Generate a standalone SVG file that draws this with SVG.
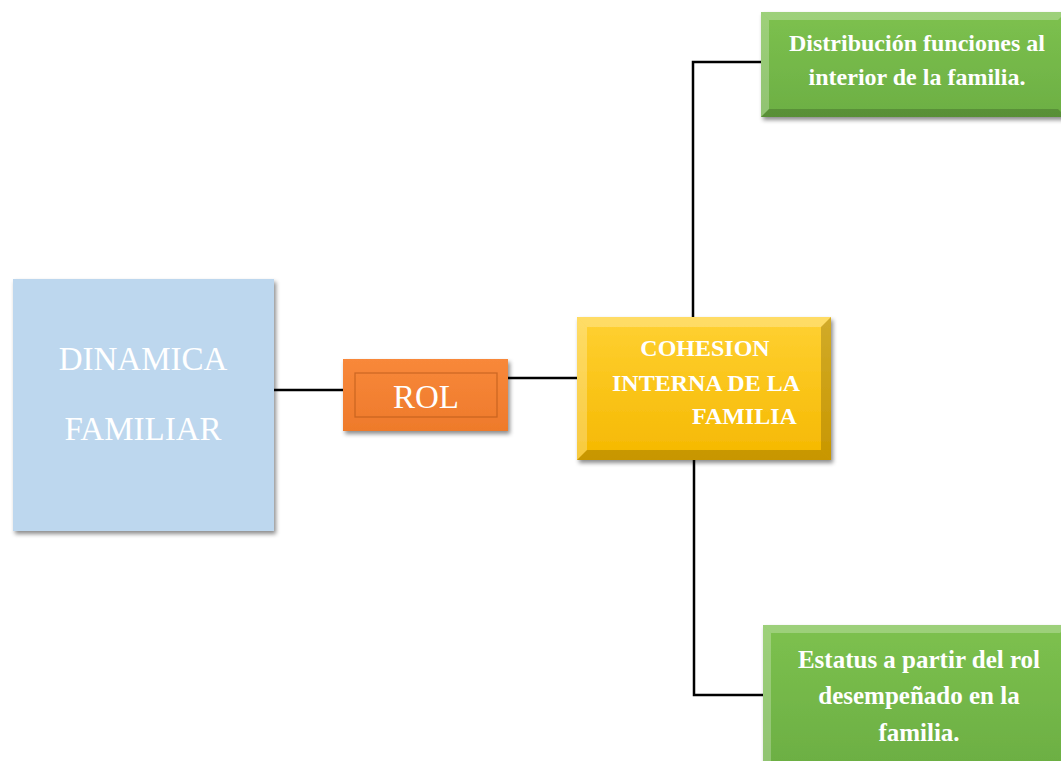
<svg xmlns="http://www.w3.org/2000/svg" width="1061" height="761" viewBox="0 0 1061 761">
<defs>
<filter id="sh" x="-10%" y="-10%" width="125%" height="125%">
<feDropShadow dx="2" dy="3" stdDeviation="2" flood-color="#000" flood-opacity="0.45"/>
</filter>
<linearGradient id="gold" x1="0" y1="0" x2="0" y2="1">
<stop offset="0" stop-color="#FFD133"/>
<stop offset="1" stop-color="#F5B800"/>
</linearGradient>
<linearGradient id="green" x1="0" y1="0" x2="0" y2="1">
<stop offset="0" stop-color="#7DC14F"/>
<stop offset="1" stop-color="#6CAF43"/>
</linearGradient>
<linearGradient id="orange" x1="0" y1="0" x2="0" y2="1">
<stop offset="0" stop-color="#F8883A"/>
<stop offset="1" stop-color="#EE7A2B"/>
</linearGradient>
</defs>
<style>
.ln{stroke:#000;stroke-width:2.5;fill:none}
.w{fill:#fff;font-family:"Liberation Serif","Times New Roman",serif}
.b{font-weight:bold}
.hi{fill:#fff;opacity:0.25}
.lo{fill:#000;opacity:0.18}
</style>
<g id="connectors">
<path class="ln" d="M274 390H344"/>
<path class="ln" d="M508 378H578"/>
<path class="ln" d="M693 317V62H762"/>
<path class="ln" d="M694 460V695H765"/>
</g>
<g id="dinamica">
<rect x="13" y="279" width="261" height="252" fill="#BDD7EE" filter="url(#sh)"/>
<text class="w" x="143" y="370" font-size="33" text-anchor="middle">DINAMICA</text>
<text class="w" x="143" y="440" font-size="33" text-anchor="middle">FAMILIAR</text>
</g>
<g id="rol">
<rect x="343" y="359" width="165" height="72" fill="url(#orange)" filter="url(#sh)"/>
<rect x="355" y="373" width="142" height="44" fill="none" stroke="#B85A1A" stroke-width="1.2" opacity="0.7"/>
<text class="w" x="426" y="408" font-size="33" text-anchor="middle">ROL</text>
</g>
<g id="cohesion">
<rect x="577" y="317" width="254" height="143" fill="url(#gold)" filter="url(#sh)"/>
<polygon class="hi" points="577,317 831,317 821,327 587,327"/>
<polygon class="hi" points="577,317 587,327 587,450 577,460"/>
<polygon class="lo" points="831,317 831,460 821,450 821,327"/>
<polygon class="lo" points="577,460 831,460 821,450 587,450"/>
<text class="w b" x="705" y="356" font-size="24" text-anchor="middle">COHESION</text>
<text class="w b" x="612" y="391" font-size="24">INTERNA DE LA</text>
<text class="w b" x="692" y="424" font-size="24">FAMILIA</text>
</g>
<g id="distribucion">
<rect x="761" y="12" width="305" height="105" fill="url(#green)" filter="url(#sh)"/>
<polygon class="hi" points="761,12 1066,12 1058,20 769,20"/>
<polygon class="hi" points="761,12 769,20 769,109 761,117"/>
<polygon class="lo" points="761,117 1066,117 1058,109 769,109"/>
<text class="w b" x="917" y="51" font-size="24" text-anchor="middle">Distribución funciones al</text>
<text class="w b" x="917" y="85" font-size="24" text-anchor="middle">interior de la familia.</text>
</g>
<g id="estatus">
<rect x="763" y="625" width="305" height="140" fill="url(#green)" filter="url(#sh)"/>
<polygon class="hi" points="763,625 1068,625 1060,633 771,633"/>
<polygon class="hi" points="763,625 771,633 771,765 763,765"/>
<text class="w b" x="919" y="668" font-size="25" text-anchor="middle">Estatus a partir del rol</text>
<text class="w b" x="919" y="704" font-size="25" text-anchor="middle">desempeñado en la</text>
<text class="w b" x="919" y="741" font-size="25" text-anchor="middle">familia.</text>
</g>
</svg>
